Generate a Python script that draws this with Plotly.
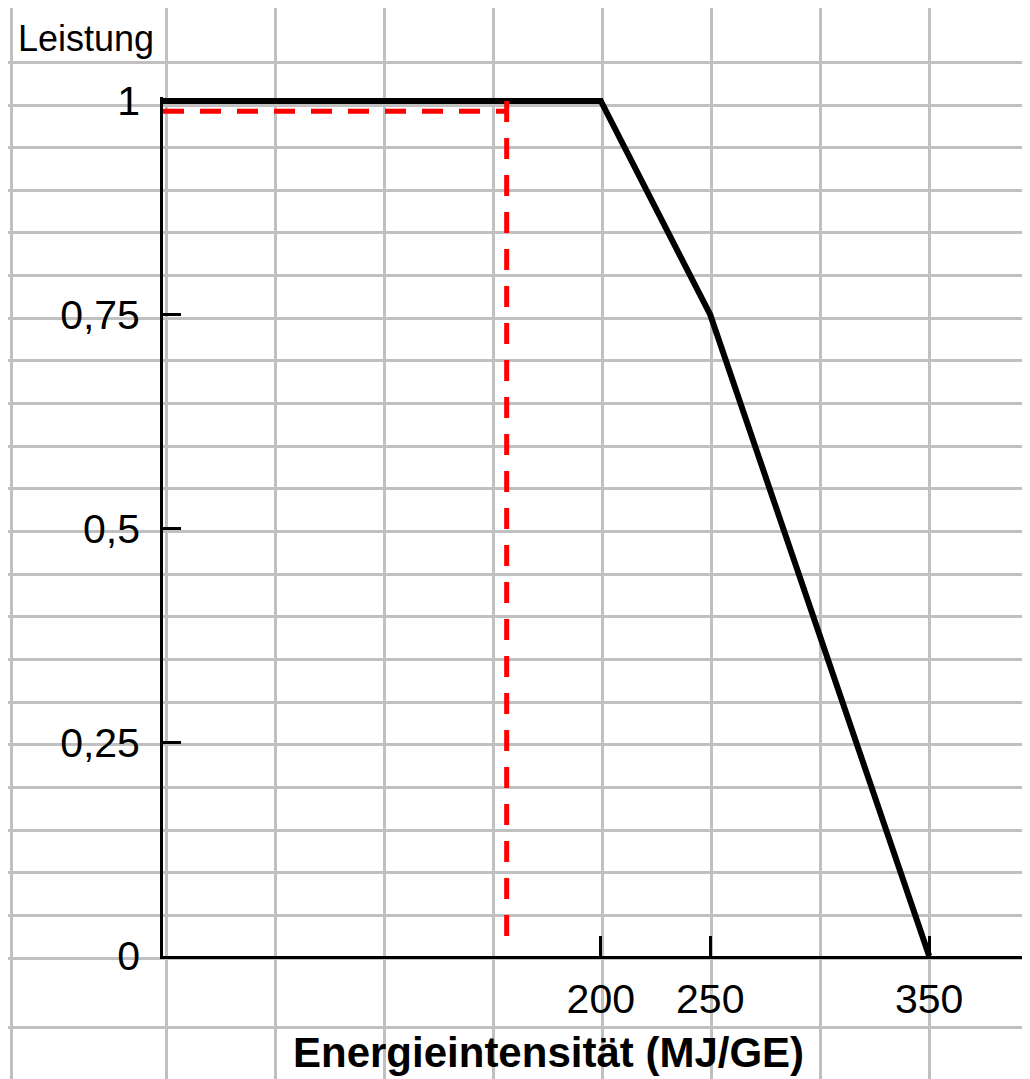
import plotly.graph_objects as go

# ---- data ----
x_curve = [0, 200, 250, 350]
y_curve = [1, 1, 0.75, 0]
x_ref = [0, 157, None, 157, 157]
y_ref = [0.988, 0.988, None, 1.0, 0.016]
x_tick_vals = [200, 250, 350]
y_tick_vals = [0, 0.25, 0.5, 0.75, 1]
y_tick_labels = ["0", "0,25", "0,5", "0,75", "1"]
x_title = "Energieintensität (MJ/GE)"
y_title = "Leistung"

# ---- layout constants (figure pixels; page shows the figure offset by 8px) ----
W, H = 1022, 1071
FONT = "Liberation Sans, Arial, sans-serif"
GRID = "#c0c0c0"

# spreadsheet-like background grid (figure pixel coordinates)
grid_cols = [3] + [158 + 109.1 * k for k in range(9)]
grid_rows = [54] + [97 + 42.65 * k for k in range(21)] + [1019]

# plot area in figure pixels
x0_px, y0_px, y1_px = 155, 948, 93
y_top = 1.005
px_per_unit_y = (y0_px - y1_px)
top_px = y1_px - (y_top - 1) * px_per_unit_y
x_max = (W - x0_px) / 2.189

fig = go.Figure()
fig.add_trace(go.Scatter(x=[None], y=[None], xaxis="x", yaxis="y",
                         showlegend=False, hoverinfo="skip"))
fig.add_trace(go.Scatter(x=x_curve, y=y_curve, xaxis="x2", yaxis="y2",
                         mode="lines", line=dict(color="black", width=6),
                         showlegend=False))
fig.add_trace(go.Scatter(x=x_ref, y=y_ref, xaxis="x2", yaxis="y2",
                         mode="lines", connectgaps=False,
                         line=dict(color="#ff0000", width=5, dash="21px,16px"),
                         showlegend=False))

fig.update_layout(
    template="none",
    width=W, height=H, autosize=False,
    margin=dict(l=0, r=0, t=0, b=0, pad=0),
    paper_bgcolor="white", plot_bgcolor="rgba(0,0,0,0)",
    font=dict(family=FONT, color="black"),
    showlegend=False,
    xaxis=dict(domain=[0, 1], range=[0, W], tickmode="array", tickvals=grid_cols,
               showgrid=True, gridcolor=GRID, gridwidth=3, showticklabels=False,
               ticks="", zeroline=False, showline=False, automargin=False),
    yaxis=dict(domain=[0, 1], range=[H, 0], tickmode="array", tickvals=grid_rows,
               showgrid=True, gridcolor=GRID, gridwidth=3, showticklabels=False,
               ticks="", zeroline=False, showline=False, automargin=False),
    xaxis2=dict(domain=[x0_px / W, 1], anchor="y2", range=[0, x_max],
                tickmode="array", tickvals=x_tick_vals,
                ticks="inside", ticklen=20, tickwidth=2.5, tickcolor="black",
                showline=True, linecolor="black", linewidth=2.7,
                showgrid=False, zeroline=False, automargin=False,
                tickfont=dict(size=41, family=FONT, color="black"),
                ticklabelstandoff=5),
    yaxis2=dict(domain=[(H - y0_px) / H, 1 - top_px / H], anchor="x2",
                range=[0, y_top],
                tickmode="array", tickvals=y_tick_vals, ticktext=y_tick_labels,
                ticks="inside", ticklen=18, tickwidth=2.5, tickcolor="black",
                showline=True, linecolor="black", linewidth=2.7,
                showgrid=False, zeroline=False, automargin=False,
                tickfont=dict(size=41, family=FONT, color="black"),
                ticklabelstandoff=12),
    annotations=[
        dict(text=y_title, xref="paper", yref="paper", x=8 / W, y=1 - 30 / H,
             xanchor="left", yanchor="middle", showarrow=False,
             font=dict(size=36, family=FONT, color="black")),
        dict(text="<b>" + x_title + "</b>", xref="paper", yref="paper",
             x=540 / W, y=1 - 1044 / H, xanchor="center", yanchor="middle",
             showarrow=False, font=dict(size=42, family=FONT, color="black")),
    ],
)

fig.write_html("out.html")
